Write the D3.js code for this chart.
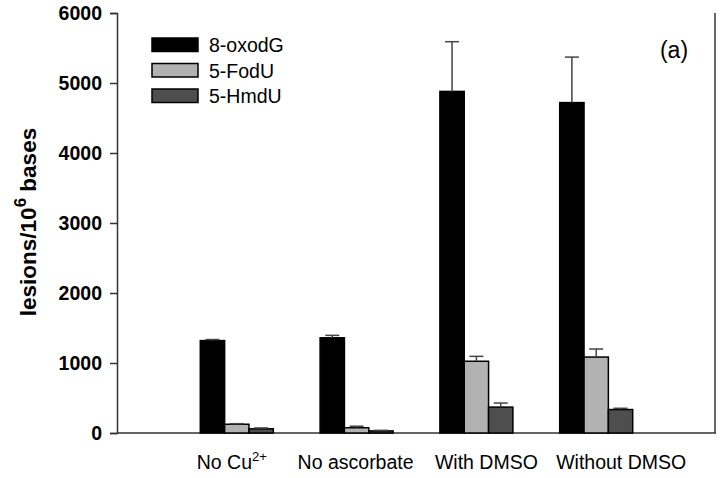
<!DOCTYPE html>
<html>
<head>
<meta charset="utf-8">
<script src="https://cdn.jsdelivr.net/npm/d3@7"></script>
<style>
  body { margin: 0; background: #fff; }
  svg { display: block; font-family: Arial, "Liberation Sans", sans-serif; }
</style>
</head>
<body>
<div id="chart"></div>
<script>
const categories = ["No Cu", "No ascorbate", "With DMSO", "Without DMSO"]
const catSup = ["2+", "", "", ""]
const seriesNames = ["8-oxodG", "5-FodU", "5-HmdU"]
const means = [
  [1320, 1360, 4880, 4720],
  [125, 75, 1025, 1085],
  [60, 30, 370, 335]
]
const errors = [
  [15, 35, 710, 650],
  [8, 22, 70, 115],
  [12, 8, 58, 18]
]
const yTicks = [0, 1000, 2000, 3000, 4000, 5000, 6000]

const width = 722, height = 478
const mLeft = 117, mRight = 716, mTop = 13, mBottom = 433
const fills = ["#000000", "#b2b2b2", "#4e4e4e"]
const axisColor = "#333"
// label nudges so the texts sit like in the original figure
const labelShift = [-5, -1, 10, 25]

const svg = d3.select("#chart").append("svg")
  .attr("width", width)
  .attr("height", height)

const x = d3.scaleLinear().domain([0, 5]).range([mLeft, mRight])
const y = d3.scaleLinear().domain([0, 6000]).range([mBottom, mTop])
const inner = d3.scaleBand().domain(d3.range(seriesNames.length)).range([-36.5, 36.5])

// y axis
const yAxis = svg.append("g")
  .attr("transform", `translate(${mLeft},0)`)
  .call(d3.axisLeft(y).tickValues(yTicks).tickSize(7).tickPadding(8).tickFormat(d3.format("d")))
yAxis.select(".domain").attr("stroke", axisColor).attr("stroke-width", 1.5)
yAxis.selectAll(".tick line").attr("stroke", axisColor).attr("stroke-width", 1.5)
yAxis.selectAll(".tick text")
  .attr("font-size", 19.5)
  .attr("font-weight", "bold")
  .attr("fill", "#000")
  .attr("font-family", "Arial, 'Liberation Sans', sans-serif")

// bottom and right frame lines
svg.append("line")
  .attr("x1", mLeft).attr("x2", mRight)
  .attr("y1", y(0)).attr("y2", y(0))
  .attr("stroke", axisColor).attr("stroke-width", 1.5)
svg.append("line")
  .attr("x1", mRight - 1).attr("x2", mRight - 1)
  .attr("y1", mTop).attr("y2", y(0))
  .attr("stroke", axisColor).attr("stroke-width", 1.5)

// bars
const groups = svg.append("g")
seriesNames.forEach((name, s) => {
  const g = groups.append("g")
  g.selectAll("rect").data(means[s]).enter().append("rect")
    .attr("x", (d, i) => x(i + 1) + inner(s))
    .attr("y", d => y(d))
    .attr("width", inner.bandwidth())
    .attr("height", d => y(0) - y(d))
    .attr("fill", fills[s])
    .attr("stroke", "#000")
    .attr("stroke-width", 1.5)

  // error bars (upper only)
  const eb = g.selectAll("g.err").data(means[s]).enter().append("g").attr("class", "err")
  eb.append("line")
    .attr("x1", (d, i) => x(i + 1) + inner(s) + inner.bandwidth() / 2)
    .attr("x2", (d, i) => x(i + 1) + inner(s) + inner.bandwidth() / 2)
    .attr("y1", d => y(d))
    .attr("y2", (d, i) => y(d + errors[s][i]))
    .attr("stroke", "#444").attr("stroke-width", 1.5)
  eb.append("line")
    .attr("x1", (d, i) => x(i + 1) + inner(s) + inner.bandwidth() / 2 - 7)
    .attr("x2", (d, i) => x(i + 1) + inner(s) + inner.bandwidth() / 2 + 7)
    .attr("y1", (d, i) => y(d + errors[s][i]))
    .attr("y2", (d, i) => y(d + errors[s][i]))
    .attr("stroke", "#444").attr("stroke-width", 1.5)
})

// category labels
const catText = svg.append("g").selectAll("text").data(categories).enter().append("text")
  .attr("x", (d, i) => x(i + 1) + labelShift[i])
  .attr("y", 469)
  .attr("text-anchor", "middle")
  .attr("font-size", 19.5)
  .attr("fill", "#000")
catText.append("tspan").text(d => d)
catText.append("tspan")
  .attr("dy", -8)
  .attr("font-size", 13)
  .text((d, i) => catSup[i])

// y axis title
const yTitle = svg.append("text")
  .attr("transform", `translate(36,222) rotate(-90)`)
  .attr("text-anchor", "middle")
  .attr("font-size", 22.5)
  .attr("font-weight", "bold")
  .attr("fill", "#000")
yTitle.append("tspan").text("lesions/10")
yTitle.append("tspan").attr("dy", -10).attr("font-size", 17).text("6")
yTitle.append("tspan").attr("dy", 10).text(" bases")

// legend
const legend = svg.append("g").attr("transform", "translate(152,38)")
seriesNames.forEach((name, s) => {
  const row = legend.append("g").attr("transform", `translate(0,${s * 25.5})`)
  row.append("rect")
    .attr("width", 46).attr("height", 13.5)
    .attr("fill", fills[s])
    .attr("stroke", "#000").attr("stroke-width", 1.5)
  row.append("text")
    .attr("x", 57).attr("y", 14)
    .attr("font-size", 19.5)
    .attr("fill", "#000")
    .text(name)
})

// panel tag
svg.append("text")
  .attr("x", 674).attr("y", 58)
  .attr("text-anchor", "middle")
  .attr("font-size", 23)
  .attr("fill", "#000")
  .text("(a)")
</script>
</body>
</html>
